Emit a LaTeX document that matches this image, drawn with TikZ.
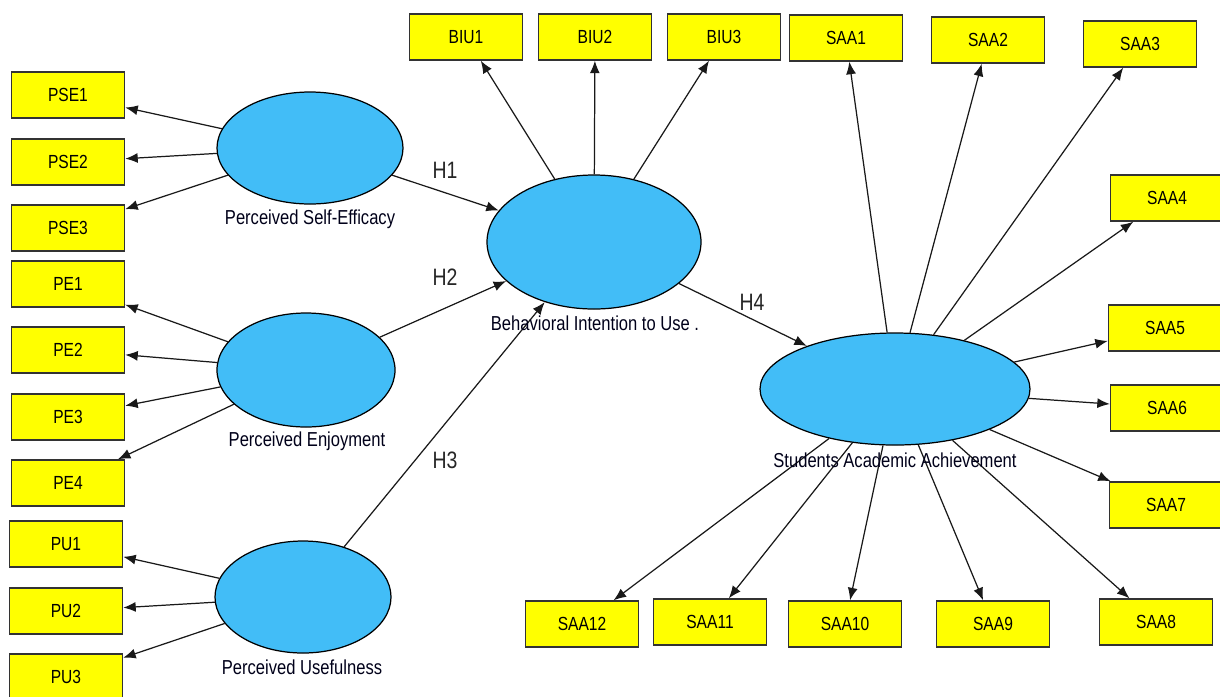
\documentclass[tikz,border=0pt]{standalone}
\usepackage{fontspec}
\setmainfont{Liberation Sans}
\newfontfamily\narrowfont[FakeStretch=0.82]{Liberation Sans}
\usepackage{tikz}
\usetikzlibrary{shapes.geometric,arrows.meta}
\definecolor{latentblue}{RGB}{66,189,247}
\definecolor{itemyellow}{RGB}{255,255,0}

\begin{document}
\begin{tikzpicture}[x=0.2mm,y=-0.2mm,>={Latex[length=2.5mm,width=2mm]},
  item/.style={draw=black!80,line width=0.8pt,fill=itemyellow,minimum width=22.6mm,minimum height=9.2mm,inner sep=0pt,font=\narrowfont\fontsize{10.8}{12}\selectfont},
  latent/.style={ellipse,draw=black,line width=0.7pt,fill=latentblue,inner sep=0pt},
  link/.style={->,line width=0.7pt,draw=black!90},
  tag/.style={font=\narrowfont\fontsize{11.5}{13}\selectfont,text=black!90!blue},
  hyp/.style={font=\narrowfont\fontsize{13.5}{15}\selectfont,text=black!85}]
\useasboundingbox (0,0) rectangle (1220,696);
% latent constructs
\node[latent,minimum width=37.2mm,minimum height=22.4mm] (pse) at (310,148) {};
\node[latent,minimum width=35.6mm,minimum height=22.8mm] (pe) at (306,370) {};
\node[latent,minimum width=35.2mm,minimum height=22.4mm] (pu) at (303,597) {};
\node[latent,minimum width=42.8mm,minimum height=26.8mm] (biu) at (594,242) {};
\node[latent,minimum width=54mm,minimum height=22.4mm] (saa) at (895,389) {};
% indicators
\node[item] (pse1) at (68,95) {PSE1};
\node[item] (pse2) at (68,162) {PSE2};
\node[item] (pse3) at (68,228) {PSE3};
\node[item] (pe1) at (68,284) {PE1};
\node[item] (pe2) at (68,350) {PE2};
\node[item] (pe3) at (68,417) {PE3};
\node[item] (pe4) at (68,483) {PE4};
\node[item] (pu1) at (66,544) {PU1};
\node[item] (pu2) at (66,611) {PU2};
\node[item] (pu3) at (66,677) {PU3};
\node[item] (biu1) at (466,37) {BIU1};
\node[item] (biu2) at (595,37) {BIU2};
\node[item] (biu3) at (724,37) {BIU3};
\node[item] (saa1) at (846,38) {SAA1};
\node[item] (saa2) at (988,40) {SAA2};
\node[item] (saa3) at (1140,44) {SAA3};
\node[item] (saa4) at (1167,198) {SAA4};
\node[item] (saa5) at (1165,328) {SAA5};
\node[item] (saa6) at (1167,408) {SAA6};
\node[item] (saa7) at (1166,505) {SAA7};
\node[item] (saa8) at (1156,622) {SAA8};
\node[item] (saa9) at (993,624) {SAA9};
\node[item] (saa10) at (845,624) {SAA10};
\node[item] (saa11) at (710,622) {SAA11};
\node[item] (saa12) at (582,624) {SAA12};
% loadings
\draw[link] (pse) -- (pse1);
\draw[link] (pse) -- (pse2);
\draw[link] (pse) -- (pse3);
\draw[link] (pe) -- (pe1);
\draw[link] (pe) -- (pe2);
\draw[link] (pe) -- (pe3);
\draw[link] (pe) -- (pe4);
\draw[link] (pu) -- (pu1);
\draw[link] (pu) -- (pu2);
\draw[link] (pu) -- (pu3);
\draw[link] (biu) -- (biu1);
\draw[link] (biu) -- (biu2);
\draw[link] (biu) -- (biu3);
\draw[link] (saa) -- (saa1);
\draw[link] (saa) -- (saa2);
\draw[link] (saa) -- (saa3);
\draw[link] (saa) -- (saa4);
\draw[link] (saa) -- (saa5);
\draw[link] (saa) -- (saa6);
\draw[link] (saa) -- (saa7);
\draw[link] (saa) -- (saa8);
\draw[link] (saa) -- (saa9);
\draw[link] (saa) -- (saa10);
\draw[link] (saa) -- (saa11);
\draw[link] (saa) -- (saa12);
% hypotheses
\draw[link] (pse) -- (biu);
\draw[link] (pe) -- (biu);
\draw[link] (pu) -- (biu);
\draw[link] (biu) -- (saa);
\node[hyp] (h1) at (445,170) {H1};
\node[hyp] (h2) at (445,277) {H2};
\node[hyp] (h3) at (445,460) {H3};
\node[hyp] (h4) at (752,302) {H4};
% construct names
\node[tag] (lpse) at (310,219) {Perceived Self-Efficacy};
\node[tag] (lpe) at (307,441) {Perceived Enjoyment};
\node[tag] (lpu) at (302,667) {Perceived Usefulness};
\node[tag] (lbiu) at (595,323) {Behavioral Intention to Use .};
\node[tag] (lsaa) at (895,460) {Students Academic Achievement};
\end{tikzpicture}
\end{document}
